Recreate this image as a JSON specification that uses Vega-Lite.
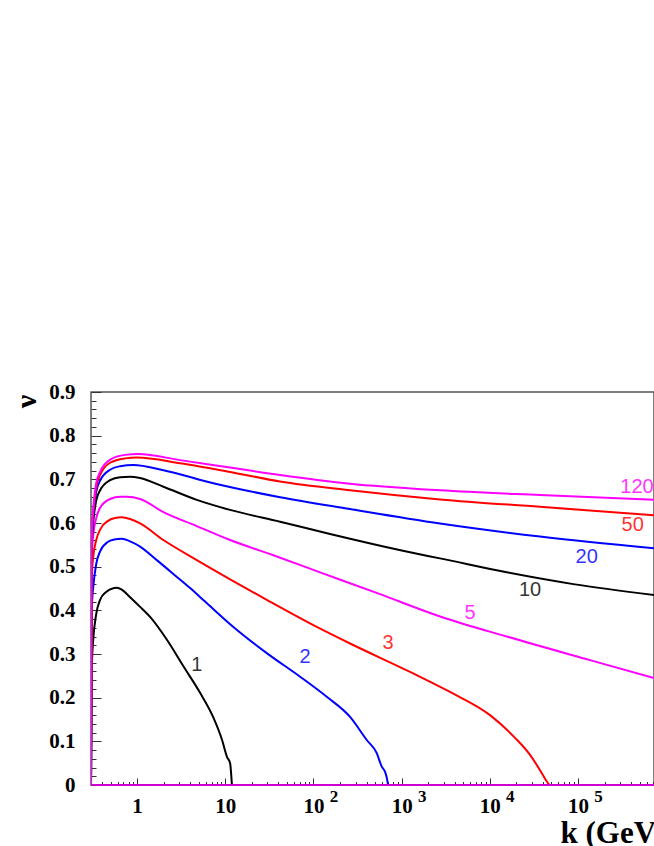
{
  "$schema": "https://vega.github.io/schema/vega-lite/v6.json",
  "width": 563,
  "height": 393,
  "autosize": {"type": "none"},
  "padding": {"left": 91, "top": 392, "right": 0, "bottom": 61},
  "background": "white",
  "config": {"view": {"stroke": "#555", "strokeWidth": 1.5}, "axis": {"grid": false}},
  "datasets": {
    "curves": [
      {"c": "1", "k": 0.3, "v": 0}, {"c": "1", "k": 0.3049, "v": 0.24}, {"c": "1", "k": 0.309, "v": 0.29}, {"c": "1", "k": 0.317, "v": 0.33}, {"c": "1", "k": 0.3428, "v": 0.39}, {"c": "1", "k": 0.3806, "v": 0.424}, {"c": "1", "k": 0.4451, "v": 0.442}, {"c": "1", "k": 0.548, "v": 0.451}, {"c": "1", "k": 0.593, "v": 0.452}, {"c": "1", "k": 0.676, "v": 0.447}, {"c": "1", "k": 0.833, "v": 0.43}, {"c": "1", "k": 1.081, "v": 0.408}, {"c": "1", "k": 1.404, "v": 0.385}, {"c": "1", "k": 2.188, "v": 0.332}, {"c": "1", "k": 3.323, "v": 0.273}, {"c": "1", "k": 5.179, "v": 0.211}, {"c": "1", "k": 7.272, "v": 0.156}, {"c": "1", "k": 9.199, "v": 0.103}, {"c": "1", "k": 10.48, "v": 0.064}, {"c": "1", "k": 11.34, "v": 0.05}, {"c": "1", "k": 11.85, "v": 0.005}, {"c": "1", "k": 11.9, "v": 0},
      {"c": "2", "k": 0.3, "v": 0}, {"c": "2", "k": 0.3049, "v": 0.38}, {"c": "2", "k": 0.309, "v": 0.42}, {"c": "2", "k": 0.317, "v": 0.45}, {"c": "2", "k": 0.3428, "v": 0.505}, {"c": "2", "k": 0.3806, "v": 0.535}, {"c": "2", "k": 0.469, "v": 0.557}, {"c": "2", "k": 0.548, "v": 0.562}, {"c": "2", "k": 0.671, "v": 0.564}, {"c": "2", "k": 0.833, "v": 0.558}, {"c": "2", "k": 1.081, "v": 0.546}, {"c": "2", "k": 1.673, "v": 0.515}, {"c": "2", "k": 2.697, "v": 0.48}, {"c": "2", "k": 3.99, "v": 0.451}, {"c": "2", "k": 5.902, "v": 0.42}, {"c": "2", "k": 12.36, "v": 0.362}, {"c": "2", "k": 29.54, "v": 0.302}, {"c": "2", "k": 70.5, "v": 0.248}, {"c": "2", "k": 141.5, "v": 0.202}, {"c": "2", "k": 260, "v": 0.156}, {"c": "2", "k": 402.2, "v": 0.103}, {"c": "2", "k": 522.2, "v": 0.073}, {"c": "2", "k": 594.9, "v": 0.042}, {"c": "2", "k": 648.6, "v": 0.03}, {"c": "2", "k": 695.6, "v": 0.005}, {"c": "2", "k": 701, "v": 0},
      {"c": "3", "k": 0.3, "v": 0}, {"c": "3", "k": 0.3049, "v": 0.45}, {"c": "3", "k": 0.309, "v": 0.49}, {"c": "3", "k": 0.317, "v": 0.52}, {"c": "3", "k": 0.3428, "v": 0.56}, {"c": "3", "k": 0.3806, "v": 0.585}, {"c": "3", "k": 0.469, "v": 0.605}, {"c": "3", "k": 0.548, "v": 0.611}, {"c": "3", "k": 0.671, "v": 0.613}, {"c": "3", "k": 0.833, "v": 0.609}, {"c": "3", "k": 1.081, "v": 0.599}, {"c": "3", "k": 1.987, "v": 0.561}, {"c": "3", "k": 4.753, "v": 0.515}, {"c": "3", "k": 11.34, "v": 0.471}, {"c": "3", "k": 29.54, "v": 0.424}, {"c": "3", "k": 109, "v": 0.362}, {"c": "3", "k": 260, "v": 0.324}, {"c": "3", "k": 1245, "v": 0.259}, {"c": "3", "k": 3538, "v": 0.213}, {"c": "3", "k": 10050, "v": 0.16}, {"c": "3", "k": 19310, "v": 0.108}, {"c": "3", "k": 28560, "v": 0.069}, {"c": "3", "k": 37090, "v": 0.034}, {"c": "3", "k": 43370, "v": 0.011}, {"c": "3", "k": 47280, "v": 0},
      {"c": "5", "k": 0.3, "v": 0}, {"c": "5", "k": 0.3049, "v": 0.5}, {"c": "5", "k": 0.309, "v": 0.54}, {"c": "5", "k": 0.317, "v": 0.57}, {"c": "5", "k": 0.3428, "v": 0.61}, {"c": "5", "k": 0.3806, "v": 0.635}, {"c": "5", "k": 0.494, "v": 0.655}, {"c": "5", "k": 0.642, "v": 0.66}, {"c": "5", "k": 0.764, "v": 0.66}, {"c": "5", "k": 1.081, "v": 0.655}, {"c": "5", "k": 1.987, "v": 0.625}, {"c": "5", "k": 4.753, "v": 0.593}, {"c": "5", "k": 11.34, "v": 0.561}, {"c": "5", "k": 35.12, "v": 0.526}, {"c": "5", "k": 118.8, "v": 0.487}, {"c": "5", "k": 569, "v": 0.437}, {"c": "5", "k": 2725, "v": 0.386}, {"c": "5", "k": 15550, "v": 0.34}, {"c": "5", "k": 136800, "v": 0.286}, {"c": "5", "k": 727400, "v": 0.245},
      {"c": "10", "k": 0.3, "v": 0}, {"c": "10", "k": 0.3049, "v": 0.52}, {"c": "10", "k": 0.309, "v": 0.57}, {"c": "10", "k": 0.317, "v": 0.6}, {"c": "10", "k": 0.3428, "v": 0.65}, {"c": "10", "k": 0.3806, "v": 0.675}, {"c": "10", "k": 0.494, "v": 0.698}, {"c": "10", "k": 0.642, "v": 0.705}, {"c": "10", "k": 0.833, "v": 0.706}, {"c": "10", "k": 1.081, "v": 0.703}, {"c": "10", "k": 1.987, "v": 0.683}, {"c": "10", "k": 4.753, "v": 0.653}, {"c": "10", "k": 11.34, "v": 0.63}, {"c": "10", "k": 41.82, "v": 0.603}, {"c": "10", "k": 154.2, "v": 0.575}, {"c": "10", "k": 1245, "v": 0.533}, {"c": "10", "k": 2725, "v": 0.519}, {"c": "10", "k": 15550, "v": 0.487}, {"c": "10", "k": 88450, "v": 0.46}, {"c": "10", "k": 727400, "v": 0.435},
      {"c": "20", "k": 0.3, "v": 0}, {"c": "20", "k": 0.3049, "v": 0.53}, {"c": "20", "k": 0.309, "v": 0.58}, {"c": "20", "k": 0.317, "v": 0.61}, {"c": "20", "k": 0.3428, "v": 0.67}, {"c": "20", "k": 0.3806, "v": 0.697}, {"c": "20", "k": 0.494, "v": 0.722}, {"c": "20", "k": 0.642, "v": 0.73}, {"c": "20", "k": 0.908, "v": 0.733}, {"c": "20", "k": 1.987, "v": 0.721}, {"c": "20", "k": 7.329, "v": 0.691}, {"c": "20", "k": 41.82, "v": 0.659}, {"c": "20", "k": 260, "v": 0.632}, {"c": "20", "k": 2725, "v": 0.599}, {"c": "20", "k": 37090, "v": 0.569}, {"c": "20", "k": 727400, "v": 0.542},
      {"c": "50", "k": 0.3, "v": 0}, {"c": "50", "k": 0.3049, "v": 0.54}, {"c": "50", "k": 0.309, "v": 0.59}, {"c": "50", "k": 0.317, "v": 0.62}, {"c": "50", "k": 0.3428, "v": 0.68}, {"c": "50", "k": 0.3806, "v": 0.71}, {"c": "50", "k": 0.494, "v": 0.738}, {"c": "50", "k": 0.731, "v": 0.748}, {"c": "50", "k": 0.992, "v": 0.75}, {"c": "50", "k": 3.072, "v": 0.737}, {"c": "50", "k": 11.34, "v": 0.717}, {"c": "50", "k": 41.82, "v": 0.695}, {"c": "50", "k": 260, "v": 0.675}, {"c": "50", "k": 2725, "v": 0.654}, {"c": "50", "k": 37090, "v": 0.637}, {"c": "50", "k": 727400, "v": 0.618},
      {"c": "120", "k": 0.3, "v": 0}, {"c": "120", "k": 0.3049, "v": 0.55}, {"c": "120", "k": 0.309, "v": 0.6}, {"c": "120", "k": 0.317, "v": 0.63}, {"c": "120", "k": 0.3428, "v": 0.69}, {"c": "120", "k": 0.3806, "v": 0.717}, {"c": "120", "k": 0.494, "v": 0.745}, {"c": "120", "k": 0.731, "v": 0.756}, {"c": "120", "k": 1.034, "v": 0.758}, {"c": "120", "k": 3.072, "v": 0.744}, {"c": "120", "k": 11.34, "v": 0.727}, {"c": "120", "k": 41.82, "v": 0.71}, {"c": "120", "k": 260, "v": 0.69}, {"c": "120", "k": 2725, "v": 0.675}, {"c": "120", "k": 37090, "v": 0.664}, {"c": "120", "k": 727400, "v": 0.653}
    ],
    "labels": [
      {"c": "1", "t": "1", "k": 4.75, "v": 0.275},
      {"c": "2", "t": "2", "k": 80.3, "v": 0.293},
      {"c": "3", "t": "3", "k": 701, "v": 0.325},
      {"c": "5", "t": "5", "k": 5970, "v": 0.394},
      {"c": "10", "t": "10", "k": 28570, "v": 0.447},
      {"c": "20", "t": "20", "k": 125600, "v": 0.523},
      {"c": "50", "t": "50", "k": 417000, "v": 0.595},
      {"c": "120", "t": "120", "k": 466600, "v": 0.683}
    ]
  },
  "layer": [
    {
      "data": {"name": "curves"},
      "mark": {"type": "line", "strokeWidth": 2, "clip": true, "interpolate": "monotone"},
      "encoding": {
        "x": {
          "field": "k", "type": "quantitative",
          "scale": {"type": "log", "domain": [0.3, 727400], "nice": false},
          "axis": {
            "orient": "bottom",
            "values": [1, 10, 100, 1000, 10000, 100000],
            "labelExpr": "datum.value < 5 ? '1' : '10'",
            "tickSize": -7, "tickColor": "#333", "tickWidth": 1, "domain": false, "grid": false,
            "labelFont": "Liberation Serif", "labelFontWeight": "bold", "labelFontSize": 21, "labelColor": "black",
            "labelPadding": 17, "labelBaseline": "top", "labelFlush": false, "labelOverlap": false,
            "title": "k (GeV)", "titleFont": "Liberation Serif", "titleFontWeight": "bold", "titleFontSize": 31, "titleColor": "black",
            "titleX": 469, "titleY": 57, "titleAlign": "left", "titleBaseline": "alphabetic"
          }
        },
        "y": {
          "field": "v", "type": "quantitative",
          "scale": {"domain": [0, 0.9], "nice": false},
          "axis": {
            "orient": "left",
            "values": [0, 0.1, 0.2, 0.3, 0.4, 0.5, 0.6, 0.7, 0.8, 0.9],
            "labelExpr": "datum.value == 0 ? '0' : format(datum.value, '.1f')",
            "tickSize": -10, "tickColor": "#333", "tickWidth": 1, "domain": false, "grid": false,
            "labelFont": "Liberation Serif", "labelFontWeight": "bold", "labelFontSize": 21, "labelColor": "black",
            "labelPadding": 26, "labelFlush": false, "labelOverlap": false,
            "title": "ν", "titleFont": "Liberation Serif", "titleFontWeight": "bold", "titleFontSize": 30, "titleColor": "black",
            "titleX": -65, "titleY": 9, "titleAlign": "center", "titleBaseline": "middle", "titleAngle": -90
          }
        },
        "color": {
          "field": "c", "type": "nominal",
          "scale": {"domain": ["1", "2", "3", "5", "10", "20", "50", "120"], "range": ["#000000", "#0000ff", "#ff0000", "#ff00ff", "#000000", "#0000ff", "#ff0000", "#ff00ff"]},
          "legend": null
        }
      }
    },
    {
      "data": {"name": "labels"},
      "mark": {"type": "text", "font": "Liberation Sans", "fontSize": 20, "align": "center", "baseline": "middle", "opacity": 0.8},
      "encoding": {
        "x": {
          "field": "k", "type": "quantitative",
          "axis": {
            "orient": "bottom",
            "values": [0.4, 0.5, 0.6, 0.7, 0.8, 0.9, 2, 3, 4, 5, 6, 7, 8, 9, 20, 30, 40, 50, 60, 70, 80, 90, 100, 200, 300, 400, 500, 600, 700, 800, 900, 1000, 2000, 3000, 4000, 5000, 6000, 7000, 8000, 9000, 10000, 20000, 30000, 40000, 50000, 60000, 70000, 80000, 90000, 100000, 200000, 300000, 400000, 500000, 600000, 700000],
            "labelExpr": "datum.value == 100 ? '2' : datum.value == 1000 ? '3' : datum.value == 10000 ? '4' : datum.value == 100000 ? '5' : ''",
            "labelFont": "Liberation Serif", "labelFontWeight": "bold", "labelFontSize": 17, "labelColor": "black",
            "labelPadding": 7, "labelBaseline": "top", "labelOffset": 20, "labelFlush": false, "labelOverlap": false,
            "tickSize": -3.5, "tickColor": "#333", "tickWidth": 1, "domain": false, "grid": false, "title": null
          }
        },
        "y": {
          "field": "v", "type": "quantitative",
          "axis": {
            "orient": "left",
            "values": [0.02, 0.04, 0.06, 0.08, 0.12, 0.14, 0.16, 0.18, 0.22, 0.24, 0.26, 0.28, 0.32, 0.34, 0.36, 0.38, 0.42, 0.44, 0.46, 0.48, 0.52, 0.54, 0.56, 0.58, 0.62, 0.64, 0.66, 0.68, 0.72, 0.74, 0.76, 0.78, 0.82, 0.84, 0.86, 0.88],
            "tickSize": -5, "tickColor": "#333", "tickWidth": 1, "labels": false, "domain": false, "grid": false, "title": null
          }
        },
        "text": {"field": "t"},
        "color": {"field": "c", "type": "nominal", "legend": null}
      }
    },
    {
      "data": {"values": [{}]},
      "mark": {"type": "rule", "color": "#d000d0", "strokeWidth": 2},
      "encoding": {"y": {"datum": 0, "type": "quantitative", "axis": null}}
    }
  ],
  "resolve": {"axis": {"x": "independent", "y": "independent"}}
}
